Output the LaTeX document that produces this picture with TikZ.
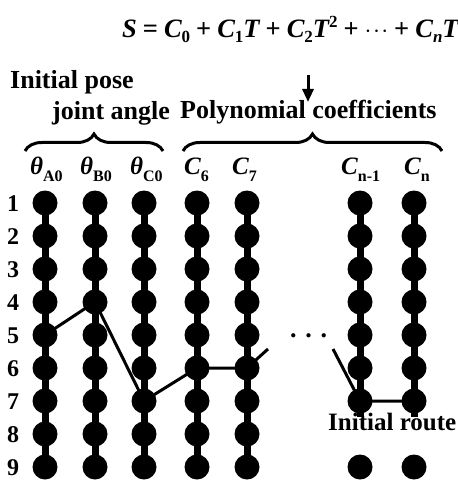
\documentclass[tikz,border=0pt]{standalone}
\usepackage{fontspec}
\setmainfont{Liberation Serif}
\usetikzlibrary{decorations.pathreplacing,arrows.meta}
\newcommand\mysub[1]{\raisebox{-6pt}{\fontsize{16}{18}\selectfont\bfseries\upshape #1}}
\newcommand\eqsub[1]{\raisebox{-5pt}{\fontsize{17}{18}\selectfont #1}}
\newcommand\eqsup[1]{\raisebox{10pt}{\fontsize{17}{18}\selectfont #1}}
\newcommand\op[1]{\hspace{6pt}{\upshape #1}\hspace{6pt}}
\begin{document}
\begin{tikzpicture}[x=1pt,y=-1pt,
  bead/.style={circle,fill=black,inner sep=0pt,minimum size=25pt},
  rod/.style={line width=7pt},
  route/.style={line width=3pt},
  lbl/.style={font=\fontsize{26}{30}\selectfont\bfseries,inner sep=0pt,anchor=base west},
  rowlbl/.style={font=\fontsize{24}{28}\selectfont\bfseries,inner sep=0pt,anchor=base},
  collbl/.style={font=\fontsize{25}{28}\selectfont\bfseries,inner sep=0pt,anchor=base west},
  bracestyle/.style={decorate,decoration={brace,amplitude=17pt},line width=3pt},
]
\useasboundingbox (0,0) rectangle (457,481);

% equation (cut at the right edge, as in the reference)
\begin{scope}
\clip (0,0) rectangle (457,481);
\node[lbl,font=\fontsize{26.5}{30}\selectfont\bfseries\itshape] (eq) at (122,38)
 {S\op{=}C\eqsub{\upshape 0}\op{+}C\eqsub{\upshape 1}T\op{+}C\eqsub{\upshape 2}T\eqsup{\upshape 2}\op{+}{\upshape$\cdot\!\cdot\!\cdot$}\op{+}C\eqsub{n}T\eqsup{n}};
\end{scope}

% arrow
\coordinate (arT) at (308,75);
\coordinate (arB) at (308,102);
\draw[line width=3pt,-{Triangle[length=13pt,width=11pt]}] (arT) -- (arB);

% headings
\node[lbl] (ip) at (10,89) {Initial pose};
\node[lbl] (ja) at (52,120) {joint angle};
\node[lbl] (pc) at (180,119) {Polynomial coefficients};
\node[lbl,font=\fontsize{25}{30}\selectfont\bfseries] (ir) at (328,430) {Initial route};

% braces
\coordinate (b1s) at (25,151);
\coordinate (b1e) at (163,151);
\coordinate (b2s) at (183,151);
\coordinate (b2e) at (442,151);
\draw[bracestyle] (b1s) -- (b1e);
\draw[bracestyle] (b2s) -- (b2e);

% column labels
\node[collbl] (lA) at (30,175) {{\itshape θ}\mysub{A0}};
\node[collbl] (lB) at (80,175) {{\itshape θ}\mysub{B0}};
\node[collbl] (lC) at (130,175) {{\itshape θ}\mysub{C0}};
\node[collbl] (l6) at (184,175) {{\itshape C}\mysub{6}};
\node[collbl] (l7) at (232,175) {{\itshape C}\mysub{7}};
\node[collbl] (lm) at (341,175) {{\itshape C}\mysub{n-1}};
\node[collbl] (ln) at (404,175) {{\itshape C}\mysub{n}};

% row labels
\foreach \i in {1,...,9} {
  \node[rowlbl] (row\i) at (13,{203+33*(\i-1)+8}) {\i};
}

% beads and rods
\foreach \c/\x in {A/45,B/95,C/144,S/197,T/247} {
  \draw[rod] (\x,203) -- (\x,467);
  \foreach \i in {1,...,9} {
    \node[bead] (\c\i) at (\x,{203+33*(\i-1)}) {};
  }
}
\foreach \c/\x in {M/360,N/414} {
  \draw[rod] (\x,203) -- (\x,417);
  \foreach \i in {1,...,7} {
    \node[bead] (\c\i) at (\x,{203+33*(\i-1)}) {};
  }
  \node[bead] (\c9) at (\x,467) {};
}

% dots
\node[lbl] (dots) at (290,337) {.\,\,.\,\,.};

% route
\coordinate (r1) at (268,349);
\coordinate (r2) at (333,349);
\draw[route] (A5.center) -- (B4.center) -- (C7.center) -- (S6.center) -- (T6.center) -- (r1);
\draw[route] (r2) -- (M7.center) -- (N7.center);
\end{tikzpicture}
\end{document}
